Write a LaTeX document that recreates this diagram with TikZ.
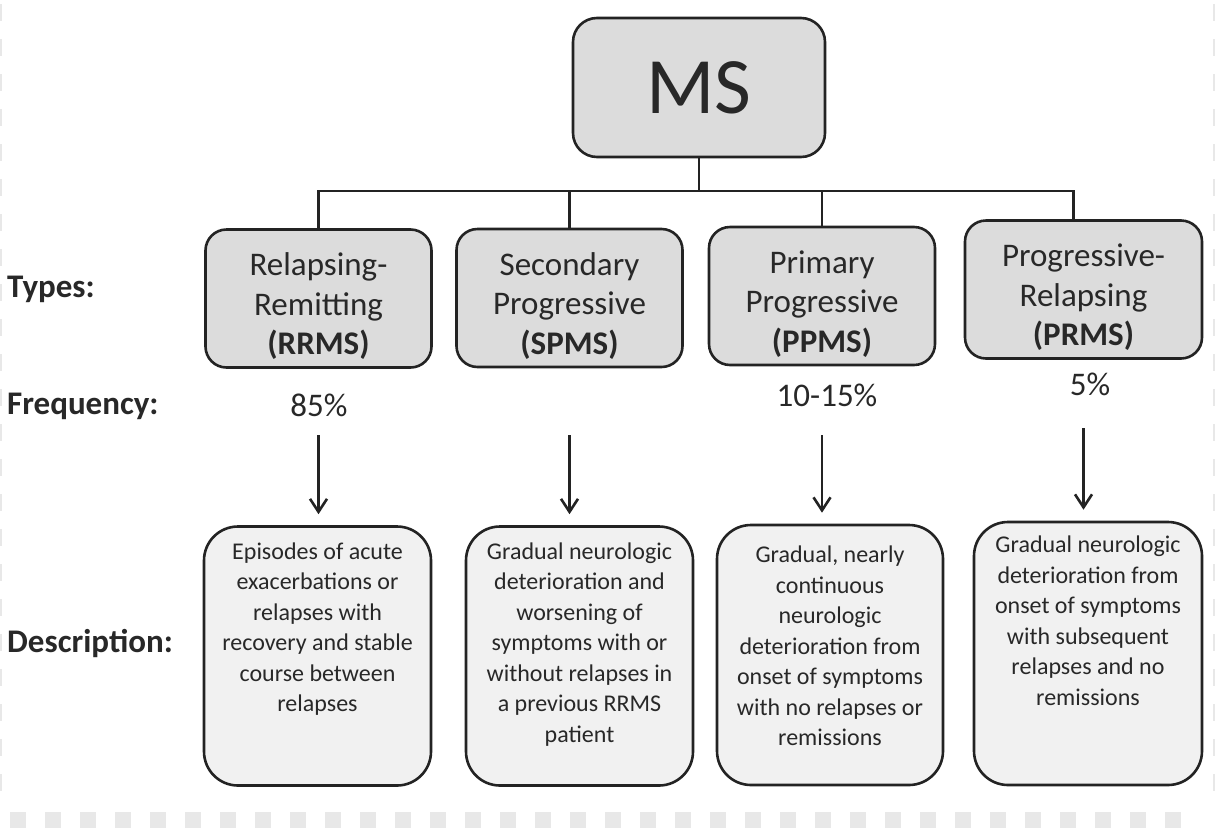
\documentclass[tikz,border=0pt]{standalone}
\usepackage{fontspec}
\setmainfont{Carlito}
\usetikzlibrary{arrows.meta}
\definecolor{typegrey}{RGB}{220,220,220}
\definecolor{descgrey}{RGB}{241,241,241}
\definecolor{edge}{RGB}{35,35,35}
\definecolor{ink}{RGB}{40,40,40}
\definecolor{checker}{RGB}{232,232,232}
\newcommand{\typestrut}{\rule{0pt}{38pt}}
\tikzset{
	msbox/.style={draw=edge, line width=2.6pt, fill=typegrey, rounded corners=24pt, minimum width=252pt, minimum height=139pt, inner sep=0pt, text=ink, font=\fontsize{80}{90}\selectfont},
	typebox/.style={draw=edge, line width=2.6pt, fill=typegrey, rounded corners=21pt, minimum width=226pt, minimum height=138pt, inner sep=0pt, align=center, text=ink, font=\fontsize{33}{39.5}\selectfont},
	descbox/.style={draw=edge, line width=2.6pt, fill=descgrey, rounded corners=34pt, minimum width=227pt, minimum height=259pt, inner sep=0pt},
	desctext/.style={anchor=north, align=center, inner sep=0pt, text=ink, font=\fontsize{24}{30.5}\selectfont},
	rowlabel/.style={anchor=west, inner sep=0pt, text=ink, font=\fontsize{33}{39}\selectfont\bfseries},
	freq/.style={inner sep=0pt, text=ink, font=\fontsize{33}{39}\selectfont},
	conn/.style={draw=edge, line width=2.6pt},
	arr/.style={conn, shorten >=11pt, -{Straight Barb[length=13pt,width=17pt,line width=2.6pt]}},
}

\begin{document}
\begin{tikzpicture}[x=1pt, y=-1pt]
		%%%%% START %%%%%
		\useasboundingbox (0,0) rectangle (1215,828);
		\fill[white] (0,0) rectangle (1215,828);
		
		% checkered edge of the scan
		\draw[checker, line width=1.5pt, dash pattern=on 17pt off 18pt] (1,4) -- (1,800);
		\draw[checker, line width=2pt, dash pattern=on 17pt off 18pt] (1213.5,4) -- (1213.5,800);
		\foreach \i in {0,...,33}
			\fill[checker] (10+35*\i,812) rectangle ++(16,16);
		
		\node[msbox] (ms) at (699,87.5) {MS};
		
		\node[typebox] (rrms) at (318.5,298.5) {\typestrut Relapsing-\\Remitting\\\textbf{(RRMS)}};
		\node[typebox] (spms) at (569.5,298) {\typestrut Secondary\\Progressive\\\textbf{(SPMS)}};
		\node[typebox] (ppms) at (822,296) {\typestrut Primary\\Progressive\\\textbf{(PPMS)}};
		\node[typebox, minimum width=237pt] (prms) at (1083.5,289.5) {\typestrut Progressive-\\Relapsing\\\textbf{(PRMS)}};
		
		\coordinate (bus) at (0,191);
		\coordinate (prmstop) at ([xshift=-10pt]prms.north);
		\draw[conn] (ms.south) -- (ms.south |- bus);
		\draw[conn] (rrms.north) -- (rrms.north |- bus) -- (prmstop |- bus) -- (prmstop);
		\draw[conn] (spms.north) -- (spms.north |- bus);
		\draw[conn] (ppms.north) -- (ppms.north |- bus);
		
		\node[rowlabel] (types) at (7,289) {Types:};
		\node[rowlabel] (frequency) at (7,406) {Frequency:};
		\node[rowlabel] (description) at (7,643) {Description:};
		
		\node[freq] (f1) at (319,405) {85\%};
		\node[freq] (f3) at (827,395) {10-15\%};
		\node[freq] (f4) at (1090,384) {5\%};
		
		\node[descbox] (d1) at (317.5,656) {};
		\node[descbox] (d2) at (579.5,656) {};
		\node[descbox, minimum width=226pt, minimum height=260pt] (d3) at (830,655) {};
		\node[descbox, minimum width=228pt, minimum height=263pt] (d4) at (1088,653.5) {};
		
		\node[desctext] (t1) at ([yshift=-17pt]d1.north) {Episodes of acute\\exacerbations or\\relapses with\\recovery and stable\\course between\\relapses};
		\node[desctext] (t2) at ([yshift=-17pt]d2.north) {Gradual neurologic\\deterioration and\\worsening of\\symptoms with or\\without relapses in\\a previous RRMS\\patient};
		\node[desctext] (t3) at ([yshift=-22pt]d3.north) {Gradual, nearly\\continuous\\neurologic\\deterioration from\\onset of symptoms\\with no relapses or\\remissions};
		\node[desctext] (t4) at ([yshift=-15pt]d4.north) {Gradual neurologic\\deterioration from\\onset of symptoms\\with subsequent\\relapses and no\\remissions};
		
		\foreach \t/\d/\s in {rrms/d1/435, spms/d2/435, ppms/d3/435, prms/d4/428}
			\draw[arr] (\t.south |- 0,\s) -- (\t.south |- \d.north);
		
		%%%%% END %%%%%
	\end{tikzpicture}
\end{document}
